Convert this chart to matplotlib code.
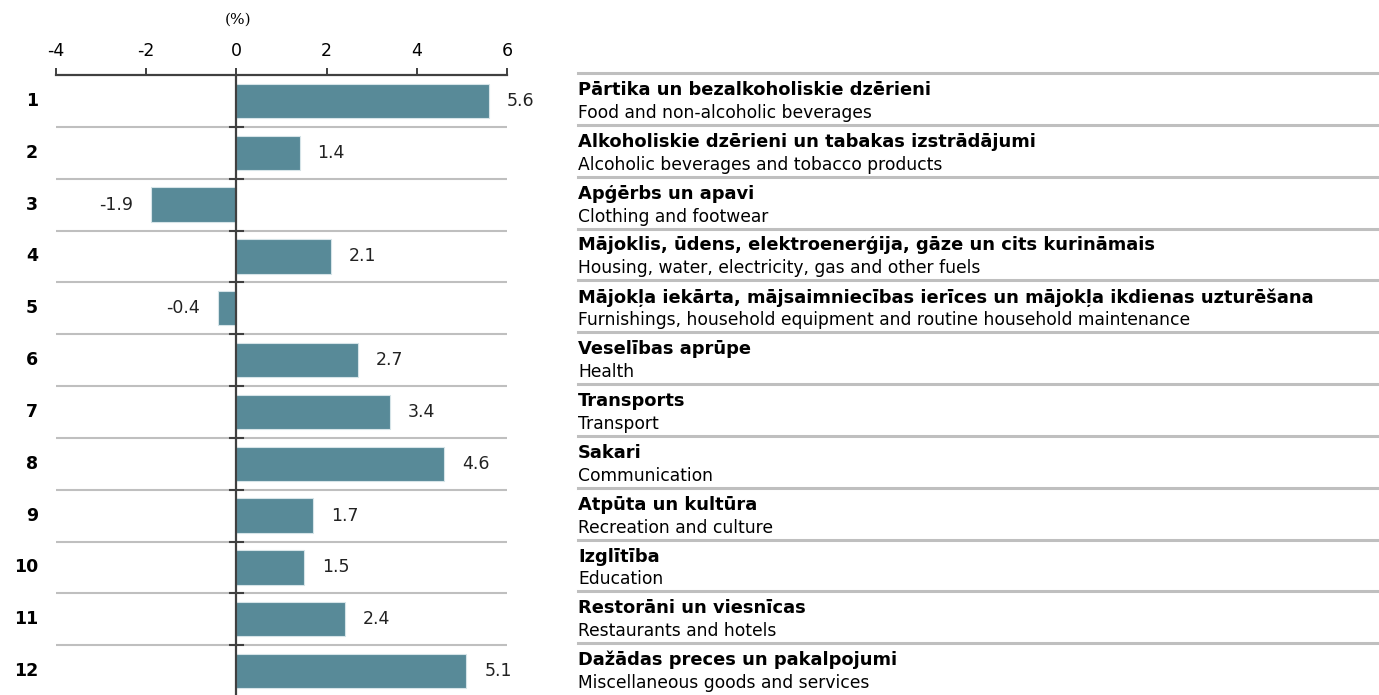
import matplotlib.pyplot as plt
from matplotlib.lines import Line2D

# Annual change by consumption group (%)
groups = [str(i) for i in range(1, 13)]
values = [5.6, 1.4, -1.9, 2.1, -0.4, 2.7, 3.4, 4.6, 1.7, 1.5, 2.4, 5.1]
names_lv = [
    "Pārtika un bezalkoholiskie dzērieni",
    "Alkoholiskie dzērieni un tabakas izstrādājumi",
    "Apģērbs un apavi",
    "Mājoklis, ūdens, elektroenerģija, gāze un cits kurināmais",
    "Mājokļa iekārta, mājsaimniecības ierīces un mājokļa ikdienas uzturēšana",
    "Veselības aprūpe",
    "Transports",
    "Sakari",
    "Atpūta un kultūra",
    "Izglītība",
    "Restorāni un viesnīcas",
    "Dažādas preces un pakalpojumi",
]
names_en = [
    "Food and non-alcoholic beverages",
    "Alcoholic beverages and tobacco products",
    "Clothing and footwear",
    "Housing, water, electricity, gas and other fuels",
    "Furnishings, household equipment and routine household maintenance",
    "Health",
    "Transport",
    "Communication",
    "Recreation and culture",
    "Education",
    "Restaurants and hotels",
    "Miscellaneous goods and services",
]
xticks = [-4, -2, 0, 2, 4, 6]

W, H = 1379, 695
plt.rcParams['font.family'] = ['DejaVu Sans']
fig = plt.figure(figsize=(W / 100, H / 100), dpi=100)

# bar axes, pixel geometry
left, right, top, bottom = 56, 507, 75, 697
ax = fig.add_axes([left / W, 1 - bottom / H, (right - left) / W, (bottom - top) / H])

n = len(values)
ypos = [i + 0.5 for i in range(n)]
bar_col = '#588A98'
ax.barh(ypos, values, height=0.66, color=bar_col, edgecolor='#D6E4E8', linewidth=0.8, zorder=3)

ax.set_xlim(-4, 6)
ax.set_ylim(n, 0)

# row separators
for i in range(1, n):
    ax.axhline(i, color='#BFBFBF', lw=1.5, zorder=1)
    ax.plot([-0.15, 0.15], [i, i], color='#404040', lw=1.5, zorder=4)
ax.axvline(0, color='#404040', lw=1.6, zorder=4)

for s in ['left', 'right', 'bottom']:
    ax.spines[s].set_visible(False)
ax.spines['top'].set_color('#404040')
ax.spines['top'].set_linewidth(1.6)
ax.xaxis.tick_top()
ax.set_xticks(xticks)
ax.set_xticklabels([str(t) for t in xticks])
ax.tick_params(axis='x', direction='out', length=5, width=1.4, color='#404040',
               labelsize=12.5, pad=6)
ax.set_yticks([])

# value labels
for y, v in zip(ypos, values):
    if v >= 0:
        ax.annotate(f"{v:.1f}", (v, y), xytext=(13, 0), textcoords='offset points',
                    ha='left', va='center', fontsize=12.5, color='#222222')
    else:
        ax.annotate(f"{v:.1f}", (v, y), xytext=(-13, 0), textcoords='offset points',
                    ha='right', va='center', fontsize=12.5, color='#222222')

# row numbers
for y, g in zip(ypos, groups):
    ax.annotate(g, (-4, y), xycoords='data', xytext=(-13, 0), textcoords='offset points',
                ha='right', va='center', fontsize=12.5, fontweight='bold')

fig.text(238 / W, 1 - 20 / H, "(%)", ha='center', va='center', fontsize=11,
         family='DejaVu Serif')

# right-hand legend table
row_h = (bottom - top) / n
tx = 578
for i in range(n):
    ly = 73 + row_h * i
    fig.add_artist(Line2D([tx / W, 1], [1 - ly / H, 1 - ly / H], color='#BFBFBF', lw=2.2))
    fig.text(tx / W, 1 - (ly + 17) / H, names_lv[i], ha='left', va='center',
             fontsize=12.9, fontweight='bold')
    fig.text(tx / W, 1 - (ly + 40) / H, names_en[i], ha='left', va='center',
             fontsize=12.3)

fig.savefig("out.png", dpi=100)
